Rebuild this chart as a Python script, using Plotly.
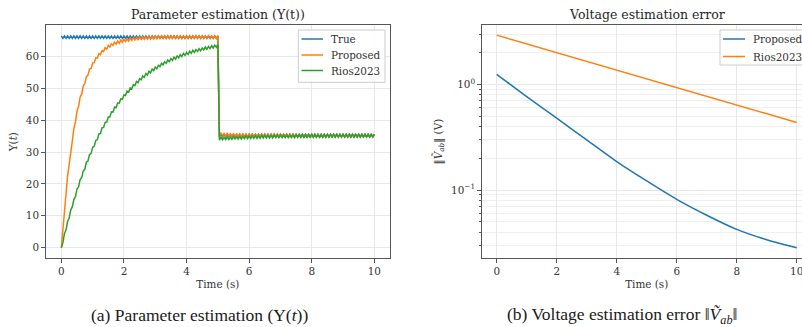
import plotly.graph_objects as go

# ---------------- (a) Parameter estimation, sampled every 0.05 s (t = 0 ... 10 s) ----------------
T0, DT = 0.0, 0.05

true_upsilon = [66.4, 65.6] * 50 + [66.4] + [34.8, 35.6] * 50

proposed_upsilon = (
    [0.0, 6.0, 12.7, 17.1, 22.6, 26.1, 30.8, 33.4, 37.4, 39.4,
     42.8, 44.3, 47.2, 48.2, 50.7, 51.5, 53.6, 54.1, 56.0, 56.2,
     57.9, 58.0, 59.5, 59.4, 60.8, 60.5, 61.8, 61.5, 62.7, 62.2,
     63.4, 62.9, 63.9, 63.4, 64.4, 63.8, 64.8, 64.1, 65.1, 64.4,
     65.3, 64.6, 65.5, 64.8, 65.7, 65.0, 65.8, 65.1, 65.9, 65.2,
     66.0, 65.3, 66.1, 65.3, 66.1, 65.4, 66.2, 65.4, 66.2, 65.4,
     66.3, 65.5]
    + [66.4, 65.6] * 19 + [66.4]
    + [35.1, 35.9, 35.1, 35.8, 35.0, 35.8, 35.0, 35.7, 34.9, 35.7]
    + [34.8, 35.6] * 19 + [34.8]
    + [35.5, 34.7] * 25 + [35.5]
)

rios_upsilon = (
    [0.0, 1.6, 4.5, 5.6, 8.3, 9.3, 11.9, 12.8, 15.2, 16.0,
     18.4, 19.1, 21.4, 22.0, 24.1, 24.6, 26.8, 27.2, 29.2, 29.5,
     31.5, 31.8, 33.6, 33.9, 35.7, 35.8, 37.6, 37.7, 39.3, 39.4,
     41.0, 41.0, 42.6, 42.5, 44.1, 43.9, 45.4, 45.3, 46.7, 46.5,
     47.9, 47.7, 49.1, 48.8, 50.1, 49.8, 51.1, 50.8, 52.1, 51.7,
     53.0, 52.6, 53.8, 53.4, 54.6, 54.1, 55.3, 54.8, 56.0, 55.5,
     56.6, 56.1, 57.2, 56.7, 57.8, 57.3, 58.3, 57.8, 58.8, 58.3,
     59.3, 58.7, 59.7, 59.1, 60.2, 59.5, 60.5, 59.9, 60.9, 60.3,
     61.2, 60.6, 61.6, 60.9, 61.9, 61.2, 62.1, 61.5, 62.4, 61.7,
     62.6, 62.0, 62.9, 62.2, 63.1, 62.4, 63.3, 62.6, 63.5, 62.8,
     63.7]
    + [33.7, 34.6, 33.8, 34.6, 33.9, 34.7, 33.9, 34.7, 34.0, 34.8,
       34.0, 34.9, 34.1, 34.9, 34.1, 34.9, 34.2, 35.0, 34.2, 35.0,
       34.2, 35.1, 34.3, 35.1, 34.3, 35.1, 34.3, 35.2, 34.4, 35.2,
       34.4, 35.2, 34.4, 35.2, 34.4, 35.3, 34.5, 35.3, 34.5, 35.3,
       34.5, 35.3, 34.5, 35.3, 34.5, 35.3, 34.5, 35.3, 34.5, 35.4]
    + [34.6, 35.4] * 9 + [34.6]
    + [35.5, 34.7] * 15 + [35.5]
)

# ---------------- (b) Voltage estimation error ----------------
err_time = [0, 1, 2, 3, 4, 5, 6, 7, 8, 9, 10]
proposed_err = [1.245, 0.767, 0.479, 0.299, 0.186, 0.122, 0.0817, 0.0578, 0.0425, 0.0339, 0.0284]
rios_err = [2.93, 2.42, 2.00, 1.66, 1.37, 1.13, 0.936, 0.774, 0.640, 0.529, 0.437]

x_ticks = [0, 2, 4, 6, 8, 10]
y_ticks_a = [0, 10, 20, 30, 40, 50, 60]
y_ticks_b = [0.1, 1]
y_ticktext_b = ["10<sup>\u22121</sup>", "10<sup>0</sup>"]
y_minor_b = [0.03, 0.04, 0.05, 0.06, 0.07, 0.08, 0.09,
             0.2, 0.3, 0.4, 0.5, 0.6, 0.7, 0.8, 0.9, 2, 3]

legend_a = ["True", "Proposed", "Rios2023"]
legend_b = ["Proposed", "Rios2023"]

BLUE, ORANGE, GREEN = "#1f77b4", "#ff7f0e", "#2ca02c"
W, H = 820, 327
FONT = "DejaVu Serif"
SPINE = "#555555"
GRID = "#e8e8e8"
TXT = "#333333"


def px(x):
    return x / W


def py(y):
    return 1 - y / H


fig = go.Figure()
fig.add_trace(go.Scatter(y=true_upsilon, x0=T0, dx=DT, mode="lines", name=legend_a[0],
                         line=dict(color=BLUE, width=1.5), xaxis="x", yaxis="y"))
fig.add_trace(go.Scatter(y=proposed_upsilon, x0=T0, dx=DT, mode="lines", name=legend_a[1],
                         line=dict(color=ORANGE, width=1.5), xaxis="x", yaxis="y"))
fig.add_trace(go.Scatter(y=rios_upsilon, x0=T0, dx=DT, mode="lines", name=legend_a[2],
                         line=dict(color=GREEN, width=1.5), xaxis="x", yaxis="y"))

fig.add_trace(go.Scatter(x=err_time, y=proposed_err, mode="lines", name=legend_b[0],
                         line=dict(color=BLUE, width=1.5, shape="spline", smoothing=0.8),
                         xaxis="x2", yaxis="y2"))
fig.add_trace(go.Scatter(x=err_time, y=rios_err, mode="lines", name=legend_b[1],
                         line=dict(color=ORANGE, width=1.5),
                         xaxis="x2", yaxis="y2"))

axis_common = dict(
    showline=True, linecolor=SPINE, linewidth=1.2, mirror=True,
    ticks="outside", ticklen=3.5, tickwidth=1, tickcolor=SPINE,
    showgrid=True, gridcolor=GRID, gridwidth=1, zeroline=False,
    tickfont=dict(family=FONT, size=10.4, color=TXT),
    automargin=False,
)

ydom = [py(258.3), py(25)]

fig.update_layout(
    width=W, height=H,
    margin=dict(l=0, r=0, t=0, b=0),
    paper_bgcolor="white", plot_bgcolor="white",
    font=dict(family=FONT, size=10.4, color=TXT),
    showlegend=False,
    xaxis=dict(axis_common, domain=[px(45.7), px(390)], range=[-0.5, 10.5],
               tickvals=x_ticks, anchor="y",
               title=dict(text="Time (s)", standoff=4, font=dict(size=10.4))),
    yaxis=dict(axis_common, domain=ydom, range=[-3.3, 69.8], tickvals=y_ticks_a, anchor="x",
               title=dict(text="\u03a5(<i>t</i>)", standoff=6, font=dict(size=10.4))),
    xaxis2=dict(axis_common, domain=[px(481.7), px(811.7)], range=[-0.5, 10.5],
                tickvals=x_ticks, anchor="y2",
                title=dict(text="Time (s)", standoff=4, font=dict(size=10.4))),
    yaxis2=dict(axis_common, domain=ydom, type="log", range=[-1.646, 0.563],
                tickvals=y_ticks_b, ticktext=y_ticktext_b, anchor="x2",
                minor=dict(tickvals=y_minor_b, ticks="outside", ticklen=2, tickcolor=SPINE,
                           showgrid=True, gridcolor="#efefef", gridwidth=1),
                title=dict(text="\u2016<i>V\u0303</i><sub><i>ab</i></sub>\u2016 (V)", standoff=6,
                           font=dict(size=10.4))),
)

annotations = [
    dict(text="Parameter estimation (\u03a5(t))", x=px(217.85), y=py(15), xref="paper", yref="paper",
         showarrow=False, xanchor="center", yanchor="middle",
         font=dict(family=FONT, size=12.5, color="#262626")),
    dict(text="Voltage estimation error", x=px(646.7), y=py(15), xref="paper", yref="paper",
         showarrow=False, xanchor="center", yanchor="middle",
         font=dict(family=FONT, size=12.5, color="#262626")),
    dict(text="(a) Parameter estimation (\u03a5(<i>t</i>))", x=px(199.5), y=py(315), xref="paper",
         yref="paper", showarrow=False, xanchor="center", yanchor="middle",
         font=dict(family="Liberation Serif", size=17.5, color="#1a1a1a")),
    dict(text="(b) Voltage estimation error \u2016<i>V\u0303</i><sub><i>ab</i></sub>\u2016", x=px(621.7),
         y=py(315), xref="paper", yref="paper", showarrow=False, xanchor="center", yanchor="middle",
         font=dict(family="Liberation Serif", size=17.5, color="#1a1a1a")),
]

shapes = []


def add_legend(box, rows, names, colors, line_x, text_x):
    x0, y0, x1, y1 = box
    shapes.append(dict(type="rect", xref="paper", yref="paper",
                       x0=px(x0), x1=px(x1), y0=py(y1), y1=py(y0),
                       line=dict(color="#cccccc", width=1), fillcolor="rgba(255,255,255,0.85)",
                       layer="above"))
    for yy, name, col in zip(rows, names, colors):
        shapes.append(dict(type="line", xref="paper", yref="paper",
                           x0=px(line_x[0]), x1=px(line_x[1]), y0=py(yy), y1=py(yy),
                           line=dict(color=col, width=1.5), layer="above"))
        annotations.append(dict(text=name, x=px(text_x), y=py(yy), xref="paper", yref="paper",
                                showarrow=False, xanchor="left", yanchor="middle",
                                font=dict(family=FONT, size=10.4, color=TXT)))


add_legend((298.3, 30, 385, 82.3), [39, 55, 70.5], legend_a, [BLUE, ORANGE, GREEN],
           (301.5, 323), 329)
add_legend((720, 30, 818, 65), [39, 56.5], legend_b, [BLUE, ORANGE], (723, 745), 751)

fig.update_layout(annotations=annotations, shapes=shapes)

fig.write_html(
    "out.html",
    config={"displayModeBar": False},
    post_script=("document.body.style.margin='0';document.body.style.overflow='hidden';"
                 "document.documentElement.style.overflow='hidden';"),
)
